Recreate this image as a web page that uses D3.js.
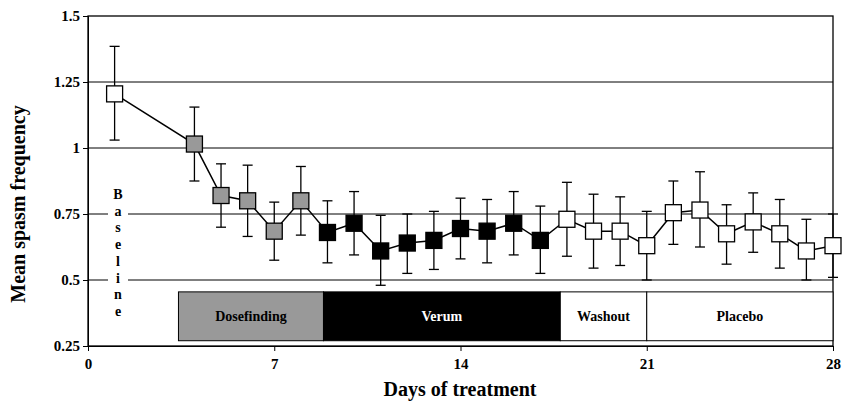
<!DOCTYPE html><html><head><script src="https://cdn.jsdelivr.net/npm/d3@7"></script>
<style>body{margin:0;background:#fff}text{font-family:"Liberation Serif","Times New Roman",serif;font-weight:bold}</style></head><body><svg width="842" height="401"></svg><script>
const days=[1,4,5,6,7,8,9,10,11,12,13,14,15,16,17,18,19,20,21,22,23,24,25,26,27,28];
const means=[1.205,1.015,0.82,0.80,0.685,0.80,0.68,0.715,0.61,0.64,0.65,0.695,0.685,0.715,0.65,0.73,0.685,0.685,0.63,0.755,0.765,0.675,0.72,0.675,0.61,0.63];
const lows=[1.03,0.875,0.70,0.665,0.575,0.67,0.565,0.595,0.48,0.525,0.54,0.58,0.565,0.595,0.525,0.59,0.545,0.555,0.50,0.635,0.625,0.56,0.605,0.545,0.50,0.51];
const highs=[1.385,1.155,0.94,0.935,0.795,0.93,0.80,0.835,0.745,0.75,0.76,0.81,0.805,0.835,0.78,0.87,0.825,0.815,0.76,0.875,0.91,0.785,0.83,0.805,0.73,0.75];
const phases=["base","dose","dose","dose","dose","dose","verum","verum","verum","verum","verum","verum","verum","verum","verum","wash","wash","wash","wash","plac","plac","plac","plac","plac","plac","plac"];
const bands=[{n:"Dosefinding",s:3.4,e:8.85,f:"#999",t:"#000"},{n:"Verum",s:8.85,e:17.75,f:"#000",t:"#fff"},{n:"Washout",s:17.75,e:21,f:"#fff",t:"#000"},{n:"Placebo",s:21,e:28,f:"#fff",t:"#000"}];
const xTicks=[0,7,14,21,28], yTicks=[0.25,0.5,0.75,1,1.25,1.5];
const fill={base:"#fff",dose:"#999",verum:"#000",wash:"#fff",plac:"#fff"};
const svg=d3.select("svg");
const x=d3.scaleLinear().domain([0,28]).range([88,833]);
const y=d3.scaleLinear().domain([0.25,1.5]).range([346,16]);
const g=svg.append("g");
yTicks.slice(1,-1).forEach(v=>g.append("line").attr("x1",88).attr("x2",833).attr("y1",y(v)).attr("y2",y(v)).attr("stroke","#000"));
g.append("rect").attr("x",88).attr("y",16).attr("width",745).attr("height",330).attr("fill","none").attr("stroke","#000").attr("stroke-width",1.3);
svg.append("g").attr("transform","translate(0,346)").call(d3.axisBottom(x).tickValues(xTicks).tickSize(5).tickFormat(d=>d)).call(a=>a.selectAll("text").attr("font-size",15).attr("dy","1em"));
svg.append("g").attr("transform","translate(88,0)").call(d3.axisLeft(y).tickValues(yTicks).tickSize(5).tickFormat(d=>String(d))).call(a=>a.selectAll("text").attr("font-size",15));
svg.selectAll(".domain,.tick line").attr("stroke","#000");
bands.forEach(b=>{g.append("rect").attr("x",x(b.s)).attr("y",y(0.455)).attr("width",x(b.e)-x(b.s)).attr("height",y(0.27)-y(0.455)).attr("fill",b.f).attr("stroke","#000");
g.append("text").attr("x",(x(b.s)+x(b.e))/2).attr("y",(y(0.455)+y(0.27))/2+5).attr("text-anchor","middle").attr("font-size",14).attr("fill",b.t).text(b.n);});
g.append("rect").attr("x",108).attr("y",185).attr("width",20).attr("height",140).attr("fill","#fff");
"Baseline".split("").forEach((c,i)=>g.append("text").attr("x",118).attr("y",199+i*16.7).attr("text-anchor","middle").attr("font-size",14).text(c));
g.append("path").datum(days.map((d,i)=>[x(d),y(means[i])])).attr("d",d3.line()).attr("fill","none").attr("stroke","#000").attr("stroke-width",1.5);
days.forEach((d,i)=>{const cx=x(d);
g.append("line").attr("x1",cx).attr("x2",cx).attr("y1",y(lows[i])).attr("y2",y(highs[i])).attr("stroke","#000").attr("stroke-width",1.3);
[lows[i],highs[i]].forEach(v=>g.append("line").attr("x1",cx-5).attr("x2",cx+5).attr("y1",y(v)).attr("y2",y(v)).attr("stroke","#000").attr("stroke-width",1.3));
g.append("rect").attr("x",cx-8).attr("y",y(means[i])-8).attr("width",16).attr("height",16).attr("fill",fill[phases[i]]).attr("stroke","#000").attr("stroke-width",1.3);});
svg.append("text").attr("x",460).attr("y",396).attr("text-anchor","middle").attr("font-size",20).text("Days of treatment");
svg.append("text").attr("transform","translate(25,204) rotate(-90)").attr("text-anchor","middle").attr("font-size",20).text("Mean spasm frequency");
</script></body></html>
